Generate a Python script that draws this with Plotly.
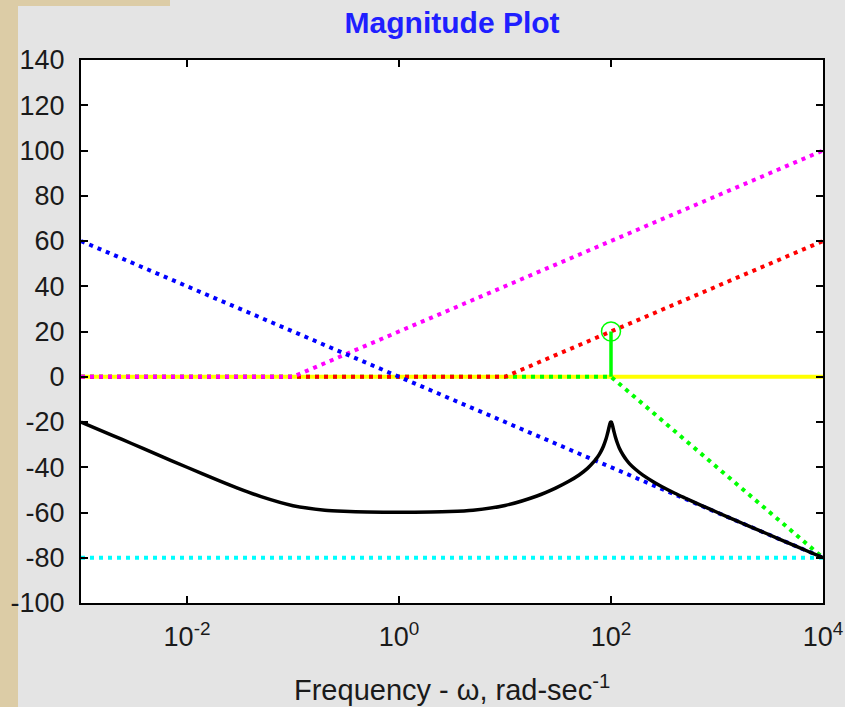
import plotly.graph_objects as go

# ---- data ----
omega_full = [1e-3, 1e4]
yellow_db = [0, 0]

green_w = [1e-3, 100, 1e4]
green_db = [0, 0, -80]

red_w = [1e-3, 10, 1e4]
red_db = [0, 0, 60]

magenta_w = [1e-3, 0.1, 1e4]
magenta_db = [0, 0, 100]

blue_w = [1e-3, 1e4]
blue_db = [60, -80]

cyan_w = [1e-3, 1e4]
cyan_db = [-80, -80]

stem_w = [100, 100]
stem_db = [0, 20]
peak_w = [100]
peak_db = [20]

mag_w = [0.001, 0.002, 0.003, 0.005, 0.01, 0.02, 0.03, 0.05, 0.1, 0.2, 0.3, 0.5, 1, 2, 3,
         5, 10, 20, 30, 40, 50, 60, 70, 75, 80, 85, 90, 92, 95, 97, 98, 99, 100, 101,
         102, 103, 105, 107, 110, 115, 120, 130, 140, 150, 170, 200, 250, 300, 400,
         500, 700, 1000, 1500, 2000, 3000, 5000, 7000, 10000]
mag_db = [-20.0, -26.0, -29.5, -34.0, -40.0, -45.9, -49.2, -53.0, -57.0, -59.0, -59.5,
          -59.8, -59.9, -59.8, -59.6, -59.0, -56.9, -52.7, -49.2, -46.2, -43.4, -40.5,
          -37.2, -35.4, -33.2, -30.6, -27.3, -25.7, -23.1, -21.3, -20.6, -20.1, -20.0,
          -20.1, -20.6, -21.3, -22.9, -24.5, -26.6, -29.4, -31.6, -34.6, -36.8, -38.5,
          -40.9, -43.5, -46.4, -48.5, -51.5, -53.6, -56.7, -59.9, -63.5, -66.0, -69.5,
          -74.0, -76.9, -80.0]

x_tickvals = [1e-2, 1, 1e2, 1e4]
x_ticktext = ["10<sup>-2</sup>", "10<sup>0</sup>", "10<sup>2</sup>", "10<sup>4</sup>"]
y_tickvals = [-100, -80, -60, -40, -20, 0, 20, 40, 60, 80, 100, 120, 140]
y_ticktext = ["-100", "-80", "-60", "-40", "-20", "0", "20", "40", "60", "80",
              "100", "120", "140"]

DOT = "4px,5px"
FONT = "Liberation Sans, Arial, sans-serif"

fig = go.Figure()
fig.add_trace(go.Scatter(x=omega_full, y=yellow_db, mode="lines",
                         line=dict(color="#ffff00", width=4)))
fig.add_trace(go.Scatter(x=cyan_w, y=cyan_db, mode="lines",
                         line=dict(color="#00ffff", width=4, dash=DOT)))
fig.add_trace(go.Scatter(x=green_w, y=green_db, mode="lines",
                         line=dict(color="#00ff00", width=4, dash=DOT)))
fig.add_trace(go.Scatter(x=red_w, y=red_db, mode="lines",
                         line=dict(color="#ff0000", width=4, dash=DOT)))
fig.add_trace(go.Scatter(x=magenta_w, y=magenta_db, mode="lines",
                         line=dict(color="#ff00ff", width=4, dash=DOT)))
fig.add_trace(go.Scatter(x=blue_w, y=blue_db, mode="lines",
                         line=dict(color="#0000ff", width=4, dash=DOT)))
fig.add_trace(go.Scatter(x=mag_w, y=mag_db, mode="lines",
                         line=dict(color="#000000", width=3.5, shape="spline",
                                   smoothing=0.6)))
fig.add_trace(go.Scatter(x=stem_w, y=stem_db, mode="lines",
                         line=dict(color="#00ff00", width=3.5)))
fig.add_trace(go.Scatter(x=peak_w, y=peak_db, mode="markers",
                         marker=dict(symbol="circle-open", size=19, color="#00ff00",
                                     line=dict(color="#00ff00", width=1.5))))

# background decorations (beige texture strips)
fig.add_shape(type="rect", xref="paper", yref="paper",
              x0=-81 / 742, x1=(18 - 81) / 742, y0=-0.2, y1=1.12,
              fillcolor="#dccca6", line=dict(width=0), layer="below")
fig.add_shape(type="rect", xref="paper", yref="paper",
              x0=-81 / 742, x1=(170 - 81) / 742, y0=1 + 54 / 543, y1=1.12,
              fillcolor="#dccca6", line=dict(width=0), layer="below")

axis_common = dict(showline=True, linecolor="black", linewidth=2, mirror="ticks",
                   ticks="inside", ticklen=7, tickwidth=1.5, tickcolor="black",
                   showgrid=False, zeroline=False, automargin=False,
                   tickfont=dict(family=FONT, size=27, color="#1a1a1a"))

fig.update_layout(
    width=845, height=707,
    margin=dict(l=81, r=22, t=60, b=104),
    paper_bgcolor="#e4e4e4", plot_bgcolor="white",
    showlegend=False,
    title=dict(text="<b>Magnitude Plot</b>", x=0.535, xanchor="center",
               y=1 - 22 / 707, yanchor="middle", yref="container",
               font=dict(family=FONT, size=30, color="#1f1fff")),
    xaxis=dict(type="log", range=[-3, 4], tickvals=x_tickvals, ticktext=x_ticktext,
               ticklabelstandoff=9, **axis_common),
    yaxis=dict(range=[-100, 140], tickvals=y_tickvals, ticktext=y_ticktext,
               ticklabelstandoff=9, **axis_common),
)

fig.add_annotation(text="Frequency - \u03c9, rad-sec<sup>-1</sup>", xref="paper", yref="paper",
                   x=0.5, y=-0.1565, xanchor="center", yanchor="middle", showarrow=False,
                   font=dict(family=FONT, size=29, color="#1a1a1a"))

fig.write_html("out.html")
